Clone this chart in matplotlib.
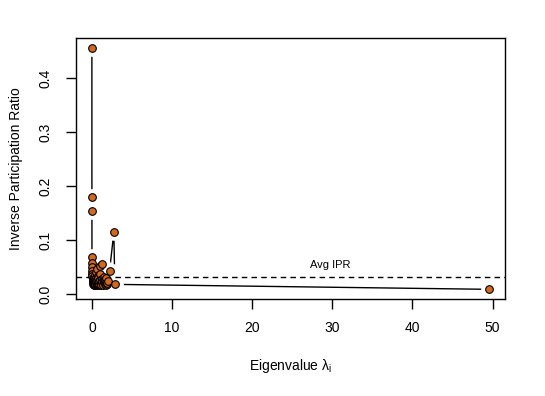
import matplotlib
matplotlib.use('Agg')
import matplotlib.pyplot as plt

plt.rcParams['font.family'] = ['Liberation Sans', 'DejaVu Sans']

# eigenvalues (sorted) and their inverse participation ratios
eigenvalues = [0.00, 0.003, 0.006, 0.01, 0.02, 0.03, 0.04, 0.05, 0.06, 0.08,
               0.10, 0.12, 0.15, 0.18, 0.21, 0.25, 0.30, 0.35, 0.40, 0.45,
               0.50, 0.56, 0.62, 0.68, 0.75, 0.82, 0.90, 0.98, 1.05, 1.12,
               1.20, 1.28, 1.36, 1.45, 1.55, 1.65, 1.75, 1.88, 2.00, 2.20,
               2.74, 2.86, 49.56]
ipr = [0.457, 0.181, 0.154, 0.070, 0.059, 0.050, 0.044, 0.038, 0.034, 0.030,
       0.027, 0.024, 0.022, 0.020, 0.019, 0.018, 0.030, 0.022, 0.036, 0.020,
       0.042, 0.025, 0.019, 0.047, 0.023, 0.030, 0.020, 0.052, 0.026, 0.021,
       0.056, 0.028, 0.019, 0.033, 0.022, 0.025, 0.030, 0.020, 0.024, 0.043,
       0.115, 0.0185, 0.0093]
# extra eigenvectors packed in the bulk near zero
bulk_eigenvalues = [0.22, 0.28, 0.33, 0.38, 0.43, 0.48, 0.53, 0.59, 0.65, 0.72,
                    0.79, 0.86, 0.94, 1.02, 1.09, 1.16, 1.24, 1.32, 1.41, 1.50,
                    1.60, 1.70, 1.81, 1.94]
bulk_ipr = [0.024, 0.019, 0.026, 0.018, 0.028, 0.021, 0.031, 0.018, 0.027, 0.020,
            0.034, 0.018, 0.025, 0.038, 0.020, 0.017, 0.029, 0.023, 0.018, 0.026,
            0.019, 0.022, 0.017, 0.021]
avg_ipr = 0.0315

xticks = [0, 10, 20, 30, 40, 50]
yticks = [0.0, 0.1, 0.2, 0.3, 0.4]
ytick_labels = ['0.0', '0.1', '0.2', '0.3', '0.4']

# merge and sort by eigenvalue, like the original ordering
pairs = sorted(zip(eigenvalues + bulk_eigenvalues, ipr + bulk_ipr))
xs = [p[0] for p in pairs]
ys = [p[1] for p in pairs]

fig = plt.figure(figsize=(5.45, 3.96), dpi=100)
ax = fig.add_axes([76 / 545, 1 - 299 / 396, 429 / 545, 261 / 396])

# R style type="b": line with gaps round the points
ax.plot(xs, ys, color='black', lw=1, zorder=1)
ax.plot(xs, ys, 'o', ms=12, color='white', mec='none', zorder=2)
ax.axhline(avg_ipr, color='black', ls=(0, (4, 3)), lw=1, zorder=2.5)
ax.plot(xs, ys, 'o', ms=5.5, mfc='#D2691E', mec='black', mew=0.8, zorder=3)
ax.text(29.7, 0.055, 'Avg IPR', fontsize=8, ha='center', va='center')

lo, hi = min(xs), max(xs)
ax.set_xlim(lo - 0.04 * (hi - lo), hi + 0.04 * (hi - lo))
lo, hi = min(ys), max(ys)
ax.set_ylim(lo - 0.04 * (hi - lo), hi + 0.04 * (hi - lo))

ax.set_xticks(xticks)
ax.set_yticks(yticks)
ax.set_yticklabels(ytick_labels, rotation=90, va='center')
ax.tick_params(direction='out', length=7, width=1, labelsize=10)
ax.tick_params(axis='x', pad=9)
ax.tick_params(axis='y', pad=10)
for s in ax.spines.values():
    s.set_linewidth(1)

ax.set_xlabel('Eigenvalue λ$_\\mathregular{i}$', fontsize=10, labelpad=16)
ax.set_ylabel('Inverse Participation Ratio', fontsize=10, labelpad=11)

fig.savefig('out.png', dpi=100)
